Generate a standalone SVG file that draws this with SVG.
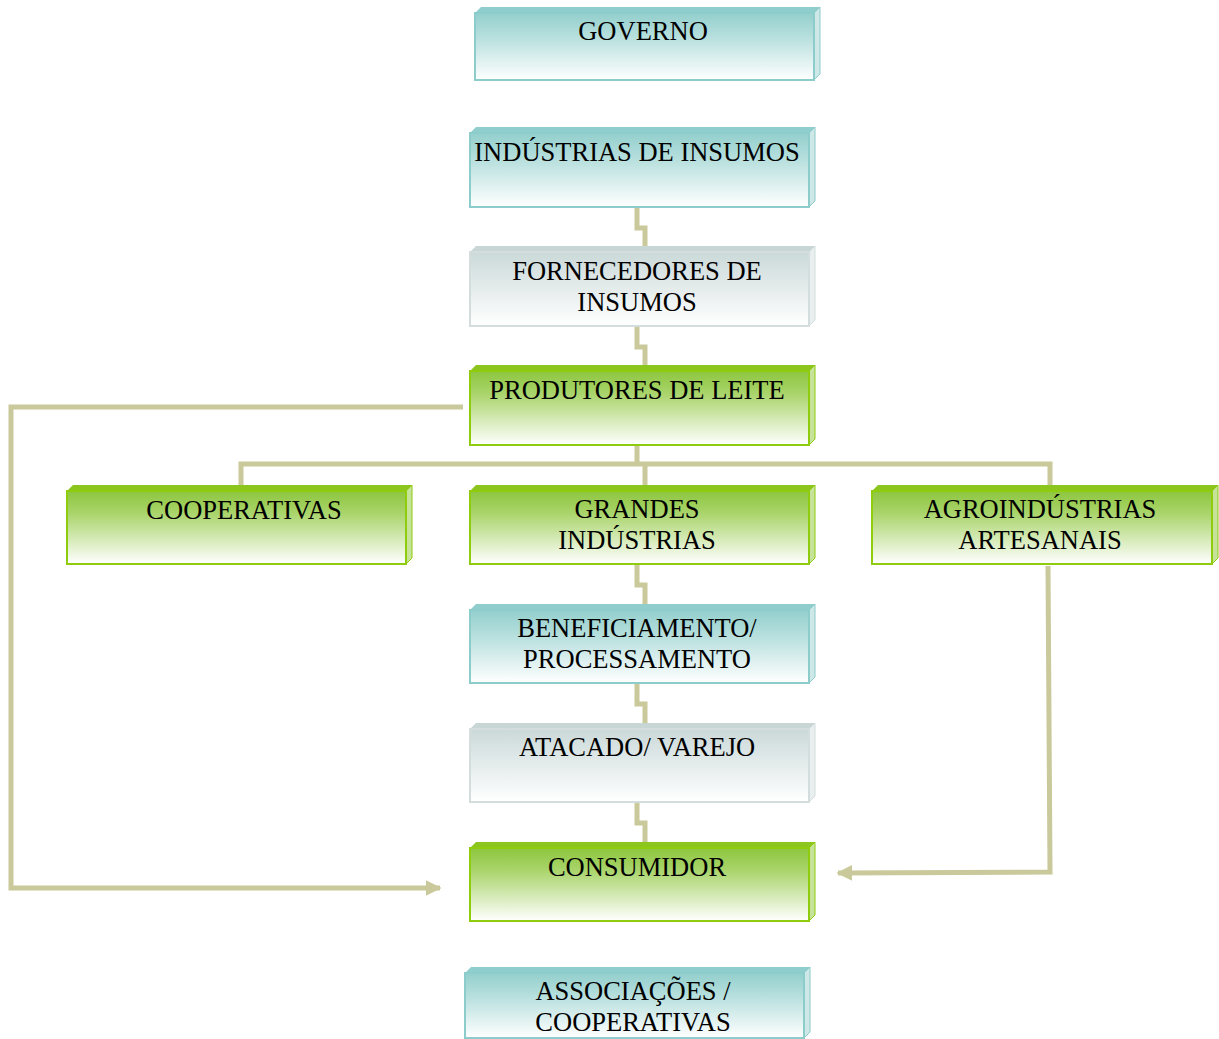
<svg xmlns="http://www.w3.org/2000/svg" width="1219" height="1039" viewBox="0 0 1219 1039">
<defs>
<linearGradient id="gT" x1="0" y1="0" x2="0" y2="1"><stop offset="0" stop-color="#93cfcd"/><stop offset="0.35" stop-color="#b6dfdd"/><stop offset="1" stop-color="#ffffff"/></linearGradient>
<linearGradient id="gG" x1="0" y1="0" x2="0" y2="1"><stop offset="0" stop-color="#8dc63f"/><stop offset="0.3" stop-color="#a9d46a"/><stop offset="1" stop-color="#ffffff"/></linearGradient>
<linearGradient id="gS" x1="0" y1="0" x2="0" y2="1"><stop offset="0" stop-color="#cbd9d9"/><stop offset="1" stop-color="#ffffff"/></linearGradient>
<marker id="arr" viewBox="0 0 10 10" refX="9" refY="5" markerWidth="3.2" markerHeight="3.2" orient="auto" markerUnits="strokeWidth"><path d="M0,0 L10,5 L0,10 z" fill="#c9c99b"/></marker>
<style>
.t{font-family:"Liberation Serif","Times New Roman",serif;font-size:26.5px;fill:#000;text-anchor:middle}
.c{fill:none;stroke:#c9c99b;stroke-width:5}
.ft{stroke:#8ccccb;stroke-width:2}
.fg{stroke:#8fcc0e;stroke-width:2}
.fs{stroke:#d3dddd;stroke-width:2}
.topT{fill:#8fcecd}.sideT{fill:#cde8e7;stroke:#8ccccb;stroke-width:1}
.topG{fill:#8cc51e}.sideG{fill:#c7e39a;stroke:#8fcc0e;stroke-width:1}
.topS{fill:#c8d6d6}.sideS{fill:#e9eeee;stroke:#d3dddd;stroke-width:1}
</style>
</defs>
<g id="connectors">
<polyline class="c" points="637,207 637,228 645,228 645,246"/>
<polyline class="c" points="637,326 637,347 645,347 645,366"/>
<polyline class="c" points="637,445 637,464"/>
<polyline class="c" points="241,485 241,464 1050,464 1050,485"/>
<polyline class="c" points="645,464 645,485"/>
<polyline class="c" points="637,564 637,585 645,585 645,604"/>
<polyline class="c" points="637,683 637,704 645,704 645,723"/>
<polyline class="c" points="637,802 637,823 645,823 645,842"/>
<polyline class="c" points="463,407 11,407 11,888 440,888" marker-end="url(#arr)"/>
<polyline class="c" points="1048,566 1050,872 838,873" marker-end="url(#arr)"/>
</g>
<g id="governo">
<polygon class="topT" points="475,13 481,7 820,7 814,13"/>
<polygon class="sideT" points="814,13 820,7 820,74 814,80"/>
<rect class="ft" x="475" y="13" width="339" height="67" fill="url(#gT)"/>
<text class="t" x="643" y="40">GOVERNO</text>
</g>
<g id="industrias-insumos">
<polygon class="topT" points="470,133 476,127 815,127 809,133"/>
<polygon class="sideT" points="809,133 815,127 815,201 809,207"/>
<rect class="ft" x="470" y="133" width="339" height="74" fill="url(#gT)"/>
<text class="t" x="637" y="161">INDÚSTRIAS DE INSUMOS</text>
</g>
<g id="fornecedores">
<polygon class="topS" points="470,252 476,246 815,246 809,252"/>
<polygon class="sideS" points="809,252 815,246 815,320 809,326"/>
<rect class="fs" x="470" y="252" width="339" height="74" fill="url(#gS)"/>
<text class="t" x="637" y="280">FORNECEDORES DE</text>
<text class="t" x="637" y="311">INSUMOS</text>
</g>
<g id="produtores">
<polygon class="topG" points="470,371 476,365 815,365 809,371"/>
<polygon class="sideG" points="809,371 815,365 815,439 809,445"/>
<rect class="fg" x="470" y="371" width="339" height="74" fill="url(#gG)"/>
<text class="t" x="637" y="399">PRODUTORES DE LEITE</text>
</g>
<g id="cooperativas">
<polygon class="topG" points="67,491 73,485 412,485 406,491"/>
<polygon class="sideG" points="406,491 412,485 412,558 406,564"/>
<rect class="fg" x="67" y="491" width="339" height="73" fill="url(#gG)"/>
<text class="t" x="244" y="519">COOPERATIVAS</text>
</g>
<g id="grandes-industrias">
<polygon class="topG" points="470,491 476,485 815,485 809,491"/>
<polygon class="sideG" points="809,491 815,485 815,558 809,564"/>
<rect class="fg" x="470" y="491" width="339" height="73" fill="url(#gG)"/>
<text class="t" x="637" y="518">GRANDES</text>
<text class="t" x="637" y="549">INDÚSTRIAS</text>
</g>
<g id="agroindustrias">
<polygon class="topG" points="872,491 878,485 1218,485 1212,491"/>
<polygon class="sideG" points="1212,491 1218,485 1218,558 1212,564"/>
<rect class="fg" x="872" y="491" width="340" height="73" fill="url(#gG)"/>
<text class="t" x="1040" y="518">AGROINDÚSTRIAS</text>
<text class="t" x="1040" y="549">ARTESANAIS</text>
</g>
<g id="beneficiamento">
<polygon class="topT" points="470,610 476,604 815,604 809,610"/>
<polygon class="sideT" points="809,610 815,604 815,677 809,683"/>
<rect class="ft" x="470" y="610" width="339" height="73" fill="url(#gT)"/>
<text class="t" x="637" y="637">BENEFICIAMENTO/</text>
<text class="t" x="637" y="668">PROCESSAMENTO</text>
</g>
<g id="atacado">
<polygon class="topS" points="470,729 476,723 815,723 809,729"/>
<polygon class="sideS" points="809,729 815,723 815,796 809,802"/>
<rect class="fs" x="470" y="729" width="339" height="73" fill="url(#gS)"/>
<text class="t" x="637" y="756">ATACADO/ VAREJO</text>
</g>
<g id="consumidor">
<polygon class="topG" points="470,848 476,842 815,842 809,848"/>
<polygon class="sideG" points="809,848 815,842 815,915 809,921"/>
<rect class="fg" x="470" y="848" width="339" height="73" fill="url(#gG)"/>
<text class="t" x="637" y="876">CONSUMIDOR</text>
</g>
<g id="associacoes">
<polygon class="topT" points="465,973 471,967 810,967 804,973"/>
<polygon class="sideT" points="804,973 810,967 810,1032 804,1038"/>
<rect class="ft" x="465" y="973" width="339" height="65" fill="url(#gT)"/>
<text class="t" x="633" y="1000">ASSOCIAÇÕES /</text>
<text class="t" x="633" y="1031">COOPERATIVAS</text>
</g>
</svg>
